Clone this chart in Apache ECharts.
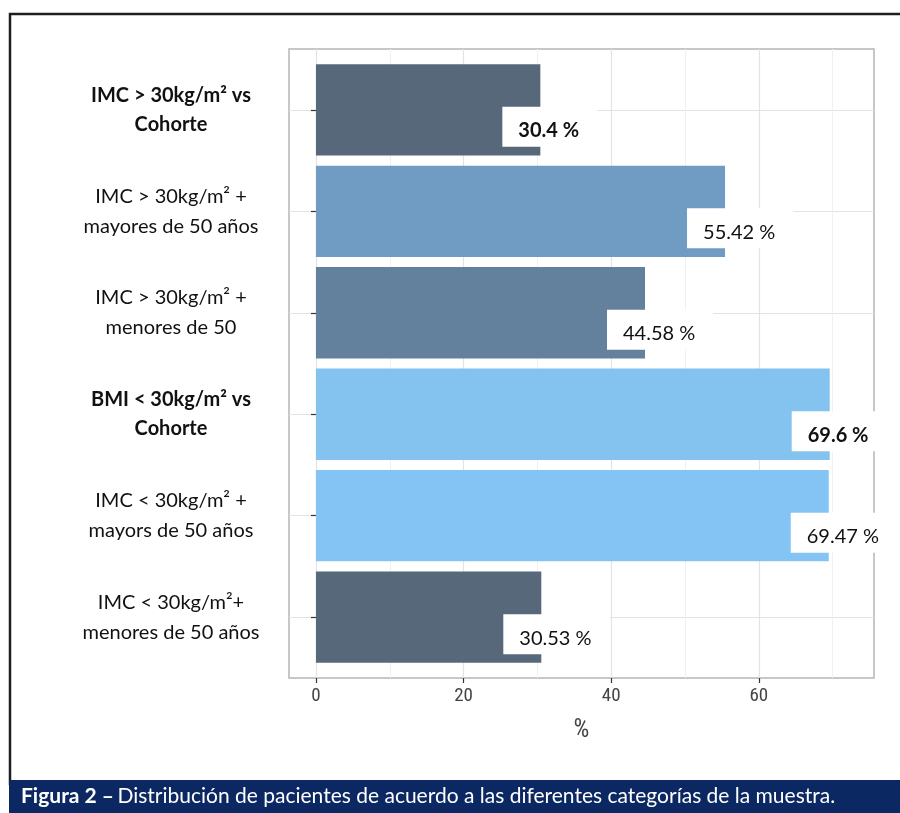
<!DOCTYPE html>
<html>
<head>
<meta charset="utf-8">
<script src="https://cdn.jsdelivr.net/npm/echarts@6/dist/echarts.min.js"></script>
<style>
  html, body { margin: 0; padding: 0; background: #ffffff; }
  #chart { width: 900px; height: 813px; }
</style>
</head>
<body>
<div id="chart"></div>
<script>
// Patient groups, top to bottom
const categories = [
  'IMC > 30kg/m² vs\nCohorte',
  'IMC > 30kg/m² +\nmayores de 50 años',
  'IMC > 30kg/m² +\nmenores de 50',
  'BMI < 30kg/m² vs\nCohorte',
  'IMC < 30kg/m² +\nmayors de 50 años',
  'IMC < 30kg/m²+\nmenores de 50 años'
];
// Share of patients in each group (%)
const percentages = [30.4, 55.42, 44.58, 69.6, 69.47, 30.53];
// Bar fill per group
const barColors = ['#57687a', '#709cc4', '#63809c', '#84c2f0', '#84c4f4', '#57687a'];
// Tick values on the % axis
const majorTicks = [0, 20, 40, 60];
const minorTicks = [10, 30, 50, 70];
const caption = 'Distribución de pacientes de acuerdo a las diferentes categorías de la muestra.';
const captionLead = 'Figura 2 –';

const FONT = 'Lato, "Open Sans", sans-serif';
const NARROW = '"Liberation Sans Narrow", "Roboto Condensed", "Liberation Sans", Arial, sans-serif';
const X_MIN = -3.65, X_MAX = 75.6;

const positions = categories.map((_, i) => i + 1);
const isCohort = name => name.indexOf('Cohorte') !== -1;

function richLabel(name) {
  const tag = isCohort(name) ? 'b' : 'n';
  return name.split('\n').map(line => '{' + tag + '|' + line + '}').join('\n');
}

const chart = echarts.init(document.getElementById('chart'), null, { renderer: 'canvas' });

chart.setOption({
  animation: false,
  backgroundColor: '#ffffff',
  grid: [
    // panel: frame, gridlines, axes
    { left: 289, right: 26, top: 49, bottom: 135, show: true, borderColor: '#b5b5b5', borderWidth: 1.5, backgroundColor: 'transparent' },
    // bars, inset by the panel's band padding
    { left: 289, right: 26, top: 59.1, bottom: 145.1 }
  ],
  xAxis: [
    {
      type: 'value', gridIndex: 0, min: X_MIN, max: X_MAX,
      axisLine: { show: false },
      axisTick: { show: true, customValues: majorTicks, length: 5, lineStyle: { color: '#333333', width: 1.2 } },
      axisLabel: { customValues: majorTicks, margin: 9, fontFamily: NARROW, fontSize: 19, color: '#444444' },
      splitLine: { show: true, lineStyle: { color: '#e3e3e3', width: 1.2 } },
      name: '%', nameLocation: 'middle', nameGap: 40,
      nameTextStyle: { fontFamily: NARROW, fontSize: 25, color: '#444444' }
    },
    {
      type: 'value', gridIndex: 0, min: X_MIN, max: X_MAX,
      axisLine: { show: false },
      axisTick: { show: false, customValues: minorTicks },
      axisLabel: { show: false, customValues: minorTicks },
      splitLine: { show: true, lineStyle: { color: '#f0f0f0', width: 1 } }
    },
    {
      type: 'value', gridIndex: 1, min: X_MIN, max: X_MAX, show: false,
      splitLine: { show: false }
    }
  ],
  yAxis: [
    {
      type: 'value', gridIndex: 0, min: 0.4, max: 6.6, inverse: true,
      axisLine: { show: false },
      axisTick: { show: true, customValues: positions, length: 5, lineStyle: { color: '#333333', width: 1.2 } },
      axisLabel: {
        customValues: positions,
        margin: 118,
        align: 'center',
        formatter: v => richLabel(categories[Math.round(v) - 1] || ''),
        rich: {
          b: { fontFamily: FONT, fontSize: 20, fontWeight: 'bold', color: '#111111', lineHeight: 29, align: 'center' },
          n: { fontFamily: FONT, fontSize: 20, color: '#111111', lineHeight: 30, align: 'center' }
        }
      },
      splitLine: { show: true, lineStyle: { color: '#e3e3e3', width: 1.2 } }
    },
    {
      type: 'category', gridIndex: 1, inverse: true, data: categories, show: false
    }
  ],
  series: [
    {
      type: 'bar',
      xAxisIndex: 2,
      yAxisIndex: 1,
      barWidth: '90%',
      data: percentages.map((v, i) => ({
        value: v,
        itemStyle: { color: barColors[i] },
        label: { fontWeight: isCohort(categories[i]) ? 'bold' : 'normal' }
      })),
      label: {
        show: true,
        position: ['100%', '50%'],
        offset: [-38, -3],
        align: 'left',
        verticalAlign: 'top',
        formatter: p => p.value + ' %',
        fontFamily: FONT,
        fontSize: 20,
        color: '#111111',
        backgroundColor: '#ffffff',
        padding: [14, 18, 6, 16],
        lineHeight: 20
      }
    }
  ],
  graphic: [
    {
      type: 'rect', silent: true, z: 100,
      shape: { x: 10, y: 14, width: 900, height: 770 },
      style: { fill: 'none', stroke: '#1e1e1e', lineWidth: 2.5 }
    },
    {
      type: 'rect', silent: true, z: 101,
      shape: { x: 9, y: 780, width: 891, height: 33 },
      style: { fill: '#0b2862' }
    },
    {
      type: 'text', silent: true, z: 102,
      x: 21, y: 796,
      style: {
        text: '{b|' + captionLead + '} {n|' + caption + '}',
        verticalAlign: 'middle',
        rich: {
          b: { fontFamily: FONT, fontSize: 21, fontWeight: 'bold', fill: '#ffffff' },
          n: { fontFamily: FONT, fontSize: 21, fill: '#ffffff' }
        }
      }
    }
  ]
});
</script>
</body>
</html>
